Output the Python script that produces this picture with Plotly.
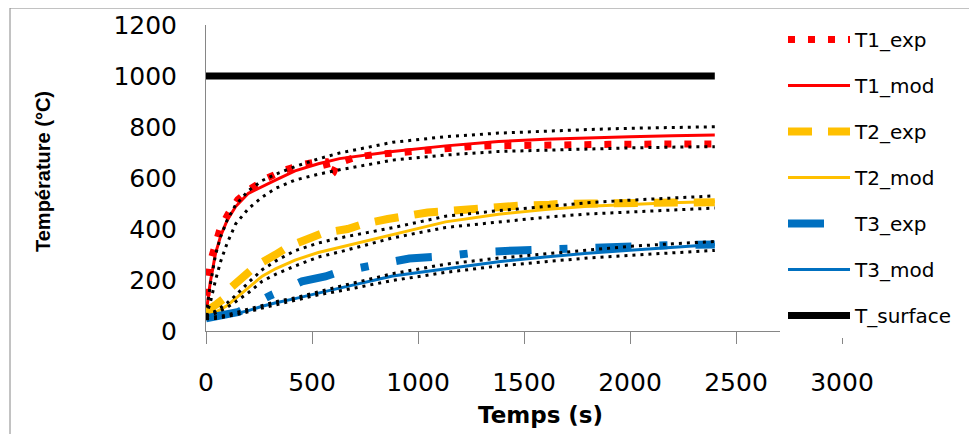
import plotly.graph_objects as go

# ---------------- data ----------------
t_mod = [0, 20, 45, 70, 100, 140, 200, 265, 330, 420, 530, 630, 880, 1130, 1380, 1600, 1800, 2000, 2200, 2400]
T1_mod = [65, 190, 305, 375, 435, 488, 540, 568, 593, 628, 656, 676, 704, 726, 743, 752, 758, 762, 766, 769]
T1_up = [60, 180, 300, 372, 435, 495, 550, 590, 615, 645, 675, 698, 740, 762, 776, 784, 790, 795, 798, 801]
T1_lo = [58, 110, 200, 275, 345, 420, 480, 525, 560, 592, 615, 632, 670, 690, 704, 710, 715, 718, 721, 723]
T2_mod = [62, 66, 74, 85, 100, 128, 170, 215, 245, 278, 308, 328, 380, 428, 458, 476, 489, 497, 503, 508]
T2_up = [62, 68, 78, 92, 110, 140, 190, 240, 275, 315, 345, 365, 405, 450, 472, 488, 503, 513, 522, 530]
T2_lo = [60, 63, 70, 80, 93, 115, 150, 195, 223, 255, 290, 310, 365, 406, 428, 446, 459, 467, 475, 482]
T3_mod = [50, 50, 51, 54, 60, 68, 80, 97, 111, 127, 150, 168, 216, 245, 272, 290, 305, 317, 328, 339]
T3_up = [52, 53, 55, 58, 63, 72, 86, 102, 115, 130, 155, 175, 225, 262, 286, 303, 319, 332, 342, 351]
T3_lo = [48, 48, 49, 52, 57, 64, 75, 90, 103, 120, 142, 157, 198, 230, 255, 272, 286, 297, 307, 316]

t1_exp = [0, 3, 8, 20, 40, 65, 105, 150, 215, 290, 365, 450, 535, 565, 582, 600, 621, 708, 786, 881,
          975, 1061, 1156, 1242, 1337, 1500, 1700, 1900, 2100, 2300, 2400]
T1_exp = [60, 136, 200, 270, 332, 397, 460, 515, 560, 600, 629, 652, 665, 664, 606, 620, 658, 682, 691, 701,
          704, 710, 719, 723, 726, 729, 731, 732, 733, 733, 733]
t2_exp = [0, 12, 50, 83, 107, 185, 233, 327, 390, 492, 550, 668, 747, 857, 920, 1045, 1116, 1234, 1305,
          1431, 1486, 1620, 1675, 1808, 2000, 2250, 2400]
T2_exp = [60, 84, 105, 126, 162, 214, 254, 299, 332, 365, 384, 400, 421, 439, 449, 465, 469, 478, 482,
          487, 492, 495, 499, 500, 501, 504, 505]
t3_exp = [0, 80, 154, 303, 453, 563, 621, 789, 959, 1124, 1305, 1470, 1651, 1816, 1997, 2170, 2400]
T3_exp = [50, 65, 75, 139, 195, 214, 230, 258, 284, 293, 310, 316, 322, 328, 332, 336, 339]

t_surf = [0, 2400]
T_surf = [1000, 1000]

x_ticks = [0, 500, 1000, 1500, 2000, 2500, 3000]
y_ticks = [0, 200, 400, 600, 800, 1000, 1200]
y_grid = [0, 200, 600, 800, 1000, 1200]

RED, ORANGE, BLUE = "#FF0000", "#FFC000", "#0070C0"

fig = go.Figure()
fig.add_trace(go.Scatter(x=t1_exp, y=T1_exp, mode="lines", name="T1_exp", legendgroup="g1",
                         line=dict(color=RED, width=7, dash="7px,13px")))
fig.add_trace(go.Scatter(x=t_mod, y=T1_mod, mode="lines", name="T1_mod", legendgroup="g2",
                         line=dict(color=RED, width=3)))
fig.add_trace(go.Scatter(x=t2_exp, y=T2_exp, mode="lines", name="T2_exp", legendgroup="g3",
                         line=dict(color=ORANGE, width=8, dash="24px,16px")))
fig.add_trace(go.Scatter(x=t_mod, y=T2_mod, mode="lines", name="T2_mod", legendgroup="g4",
                         line=dict(color=ORANGE, width=3)))
fig.add_trace(go.Scatter(x=t3_exp, y=T3_exp, mode="lines", name="T3_exp", legendgroup="g5",
                         line=dict(color=BLUE, width=8, dash="36px,28px,8px,28px")))
fig.add_trace(go.Scatter(x=t_mod, y=T3_mod, mode="lines", name="T3_mod", legendgroup="g6",
                         line=dict(color=BLUE, width=3)))
fig.add_trace(go.Scatter(x=t_surf, y=T_surf, mode="lines", name="T_surface", legendgroup="g7",
                         line=dict(color="black", width=7)))
for b, g in ((T1_up, "g2"), (T1_lo, "g2"), (T2_up, "g4"), (T2_lo, "g4"), (T3_up, "g6"), (T3_lo, "g6")):
    fig.add_trace(go.Scatter(x=t_mod, y=b, mode="lines", showlegend=False, hoverinfo="skip",
                             legendgroup=g,
                             line=dict(color="black", width=3, dash="3px,5px")))

GRID = "#868686"
OFF = 8                      # page body margin
W, H = 977 - OFF, 434 - OFF
L, T = 206 - OFF, 25 - OFF
pw, ph = 636, 306
R, B = W - L - pw, H - T - ph

def px_x(p):
    return (p - OFF - L) / pw

def px_y(p):
    return (T + ph - (p - OFF)) / ph

LB = 3   # thin white legend border used as padding
fig.update_layout(
    width=W, height=H,
    margin=dict(l=L, r=R, t=T, b=B, autoexpand=False),
    paper_bgcolor="white", plot_bgcolor="white",
    font=dict(family="DejaVu Sans", color="black"),
    xaxis=dict(range=[0, 3000], tickvals=x_ticks, showgrid=False, zeroline=False,
               showline=True, linecolor=GRID, linewidth=1,
               ticks="outside", ticklen=12, tickcolor=GRID,
               tickfont=dict(size=25, family="DejaVu Sans", color="black"),
               ticklabelstandoff=17),
    yaxis=dict(range=[0, 1200], tickvals=y_ticks, showgrid=False, zeroline=False,
               showline=True, linecolor=GRID, linewidth=1, ticks="",
               tickfont=dict(size=25, family="DejaVu Sans", color="black"),
               ticklabelstandoff=23),
    yaxis2=dict(range=[0, 1200], overlaying="y", anchor="x", side="left",
                tickvals=y_grid, showgrid=True, gridcolor=GRID, gridwidth=1,
                zeroline=False, showticklabels=False,
                ticks="outside", ticklen=11, tickcolor=GRID),
    legend=dict(x=px_x(783 - LB), y=px_y(20 - LB), xanchor="left", yanchor="top",
                bgcolor="white", bordercolor="white", borderwidth=LB, maxheight=420,
                font=dict(size=20, family="DejaVu Sans", color="black"),
                itemwidth=62, traceorder="grouped", tracegroupgap=17),
    showlegend=True,
    annotations=[
        dict(text="<b>Température (°C)</b>", textangle=-90, x=px_x(43), y=px_y(172),
             xref="paper", yref="paper", showarrow=False, xanchor="center", yanchor="middle",
             font=dict(size=20, family="Liberation Sans", color="black")),
        dict(text="<b>Temps (s)</b>", x=px_x(540), y=px_y(415),
             xref="paper", yref="paper", showarrow=False, xanchor="center", yanchor="middle",
             font=dict(size=23, family="DejaVu Sans", color="black")),
    ],
    shapes=[dict(type="rect", xref="paper", yref="paper",
                 x0=px_x(10), x1=px_x(990), y0=px_y(450), y1=px_y(8),
                 line=dict(color=GRID, width=1), layer="below")],
)

fig.write_html("out.html")
